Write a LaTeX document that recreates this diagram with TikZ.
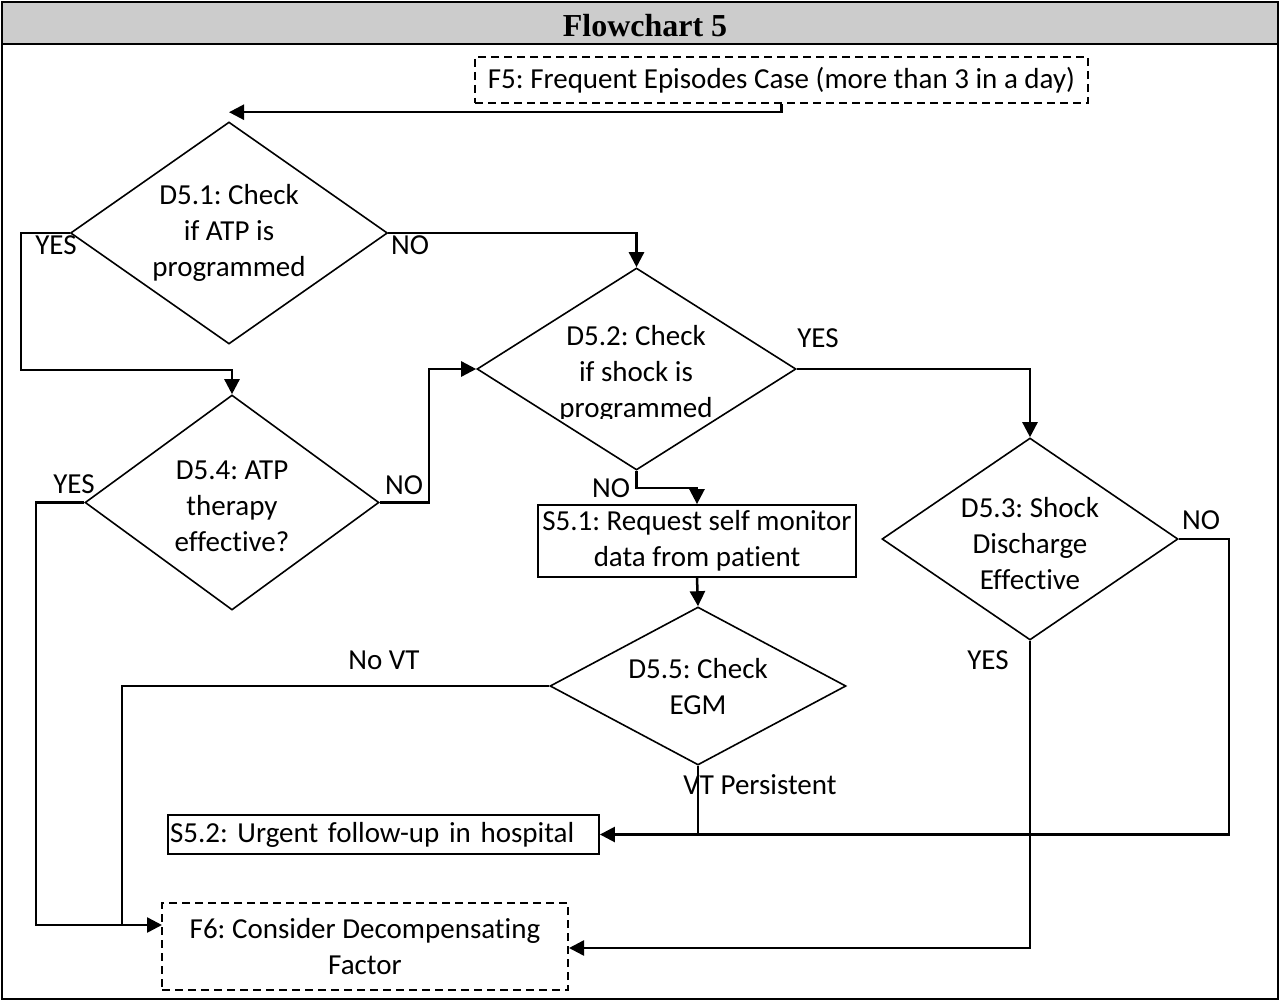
\documentclass[tikz,border=0pt]{standalone}
\usepackage{fontspec}
\setmainfont[Ligatures=NoCommon]{Carlito}
\newfontfamily\titlefont{Liberation Serif}
\usetikzlibrary{shapes.geometric,arrows.meta}
\definecolor{titlegray}{RGB}{204,204,204}
\frenchspacing

\begin{document}
\begin{tikzpicture}[x=0.5pt,y=-0.5pt,
  every node/.style={font=\fontsize{14.5}{18}\selectfont},
  dec/.style={diamond,draw,line width=0.8pt,inner sep=0pt},
  dectext/.style={align=center,inner sep=0pt},
  proc/.style={rectangle,draw,line width=0.9pt,inner sep=0pt},
  term/.style={rectangle,draw,dash pattern=on 4pt off 2.5pt,line width=1pt,inner sep=0pt,align=center},
  conn/.style={line width=1.25pt},
  arr/.style={conn,-{Triangle[length=7.5pt,width=7.5pt]}},
  lab/.style={inner sep=0pt}]

\useasboundingbox (0,0) rectangle (1280,1001);

% frame and title bar
\draw[line width=1.2pt,fill=titlegray] (2,2) rectangle (1278,44);
\draw[line width=1.2pt] (2,2) rectangle (1278,999);
\node[font=\titlefont\bfseries\fontsize{16}{18}\selectfont] (title) at (645,26) {Flowchart 5};

% terminals
\node[term,minimum width=306.5pt,minimum height=23pt] (F5) at (781.5,80)
  {F5: Frequent Episodes Case (more than 3 in a day)};
\node[term,minimum width=203pt,minimum height=43.5pt] (F6) at (365,946.5)
  {F6: Consider Decompensating\\Factor};

% decisions
\node[dec,minimum width=158.5pt,minimum height=111pt] (D51) at (229,233) {};
\node[dectext] (D51t) at (229,233) {D5.1: Check\\if ATP is\\programmed};
\node[dec,minimum width=159.5pt,minimum height=101pt] (D52) at (636.5,369) {};
\begin{scope}
  % the last line of this decision text is cut off at its foot
  \clip (480,300) rectangle (800,418);
  \node[dectext] (D52t) at (636,374) {D5.2: Check\\if shock is\\programmed};
\end{scope}
\node[dec,minimum width=147pt,minimum height=107.5pt] (D54) at (232,502.5) {};
\node[dectext] (D54t) at (232,506) {D5.4: ATP\\therapy\\effective?};
\node[dec,minimum width=148pt,minimum height=101pt] (D53) at (1030,539) {};
\node[dectext] (D53t) at (1030,544) {D5.3: Shock\\Discharge\\Effective};
\node[dec,minimum width=148pt,minimum height=79pt] (D55) at (698,686) {};
\node[dectext] (D55t) at (698,687) {D5.5: Check\\EGM};

% process steps
\node[proc,minimum width=159pt,minimum height=36pt,align=center] (S51) at (697,541)
  {S5.1: Request self monitor\\data from patient};
\node[proc,minimum height=19.5pt,text width=213.5pt,inner xsep=1pt,align=left] (S52) at (383.5,834.5)
  {S5.2: Urgent follow-up in hospital};

% bend points
\coordinate (c1) at (21,370);
\coordinate (c2) at (36,925);
\coordinate (c3) at (122,925);
\coordinate (c4) at (162,925);

% connectors
\draw[arr] (F5.south) |- ([yshift=4.5pt]D51.north);
\draw[arr] (D51.west) -| (c1) -| (D54.north);
\draw[arr] (D51.east) -| (D52.north);
\draw[arr] (D52.east) -| (D53.north);
\draw[arr] (D52.south) -- ++(0,17) -| (S51.north);
\draw[arr] (D54.east) -- ++(49,0) |- (D52.west);
\draw[arr] (D54.west) -| (c2) -- (c4);
\draw[arr] (S51.south) -- (D55.north);
\draw[conn] (D55.west) -| (c3);
\draw[conn] (D55.south) -- (D55.south |- S52.east);
\draw[arr] (D53.east) -- ++(50,0) |- (S52.east);
\draw[arr] (D53.south) |- ([yshift=-0.75pt]F6.east);

% branch labels
\node[lab] (l1) at (56,245) {YES};
\node[lab] (l2) at (410,245) {NO};
\node[lab] (l3) at (818,338) {YES};
\node[lab] (l4) at (611,488) {NO};
\node[lab] (l5) at (74,484) {YES};
\node[lab] (l6) at (404,485) {NO};
\node[lab] (l7) at (384,660) {No VT};
\node[lab] (l8) at (760,785) {VT Persistent};
\node[lab] (l9) at (988,660) {YES};
\node[lab] (l10) at (1201,520) {NO};
\end{tikzpicture}
\end{document}
